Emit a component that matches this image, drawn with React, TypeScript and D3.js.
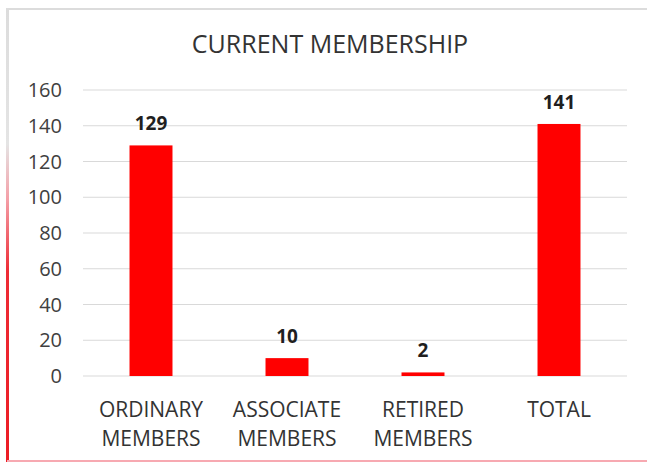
import React from "react";
import * as d3 from "d3";

const categories: string[][] = [
  ["ORDINARY", "MEMBERS"],
  ["ASSOCIATE", "MEMBERS"],
  ["RETIRED", "MEMBERS"],
  ["TOTAL"],
];
const values: number[] = [129, 10, 2, 141];
const yTicks: number[] = [0, 20, 40, 60, 80, 100, 120, 140, 160];
const title = "CURRENT MEMBERSHIP";

const W = 647;
const H = 463;
const FONT = "'Open Sans', 'Liberation Sans', sans-serif";

export default function App() {
  const x = d3
    .scaleBand<number>()
    .domain(values.map((_, i) => i))
    .range([83, 627])
    .paddingInner(0.684)
    .paddingOuter(0.342);
  const y = d3.scaleLinear().domain([0, 160]).range([376, 90]);

  return (
    <svg
      width={W}
      height={H}
      style={{ position: "fixed", left: 0, top: 0, background: "#fff" }}
      fontFamily={FONT}
    >
      <defs>
        <linearGradient id="leftEdge" x1="0" y1="0" x2="0" y2="1">
          <stop offset="0" stopColor="#dcdcdc" />
          <stop offset="0.3" stopColor="#e4e4e4" />
          <stop offset="0.42" stopColor="#f4a0a8" />
          <stop offset="0.58" stopColor="#ee2b35" />
          <stop offset="1" stopColor="#ec1c24" />
        </linearGradient>
      </defs>
      {/* frame */}
      <rect x={7} y={8} width={W - 7} height={2} fill="#dcdcdc" />
      <rect x={6} y={8} width={3} height={454} fill="url(#leftEdge)" />
      <rect x={7} y={460} width={W - 7} height={2} fill="#f7a9b1" />

      {/* title */}
      <text x={330} y={53} textAnchor="middle" fontSize={25} fill="#333333">
        {title}
      </text>

      {/* grid + y labels */}
      {yTicks.map((t) => (
        <g key={t}>
          <line
            x1={83}
            x2={627}
            y1={y(t)}
            y2={y(t)}
            stroke="#d9d9d9"
            strokeWidth={1}
          />
          <text
            x={62}
            y={y(t)}
            dy="0.36em"
            textAnchor="end"
            fontSize={20}
            fill="#404040"
          >
            {t}
          </text>
        </g>
      ))}

      {/* bars */}
      {values.map((v, i) => (
        <g key={i}>
          <rect
            x={x(i)!}
            y={y(v)}
            width={x.bandwidth()}
            height={y(0) - y(v)}
            fill="#ff0000"
          />
          <text
            x={x(i)! + x.bandwidth() / 2}
            y={y(v) - 15}
            textAnchor="middle"
            fontSize={19}
            fontWeight="bold"
            fill="#1f1f1f"
          >
            {v}
          </text>
        </g>
      ))}

      {/* category labels */}
      {categories.map((lines, i) => (
        <text
          key={i}
          x={x(i)! + x.bandwidth() / 2}
          y={417}
          textAnchor="middle"
          fontSize={21}
          fill="#333333"
        >
          {lines.map((l, j) => (
            <tspan key={j} x={x(i)! + x.bandwidth() / 2} dy={j === 0 ? 0 : 29}>
              {l}
            </tspan>
          ))}
        </text>
      ))}
    </svg>
  );
}
